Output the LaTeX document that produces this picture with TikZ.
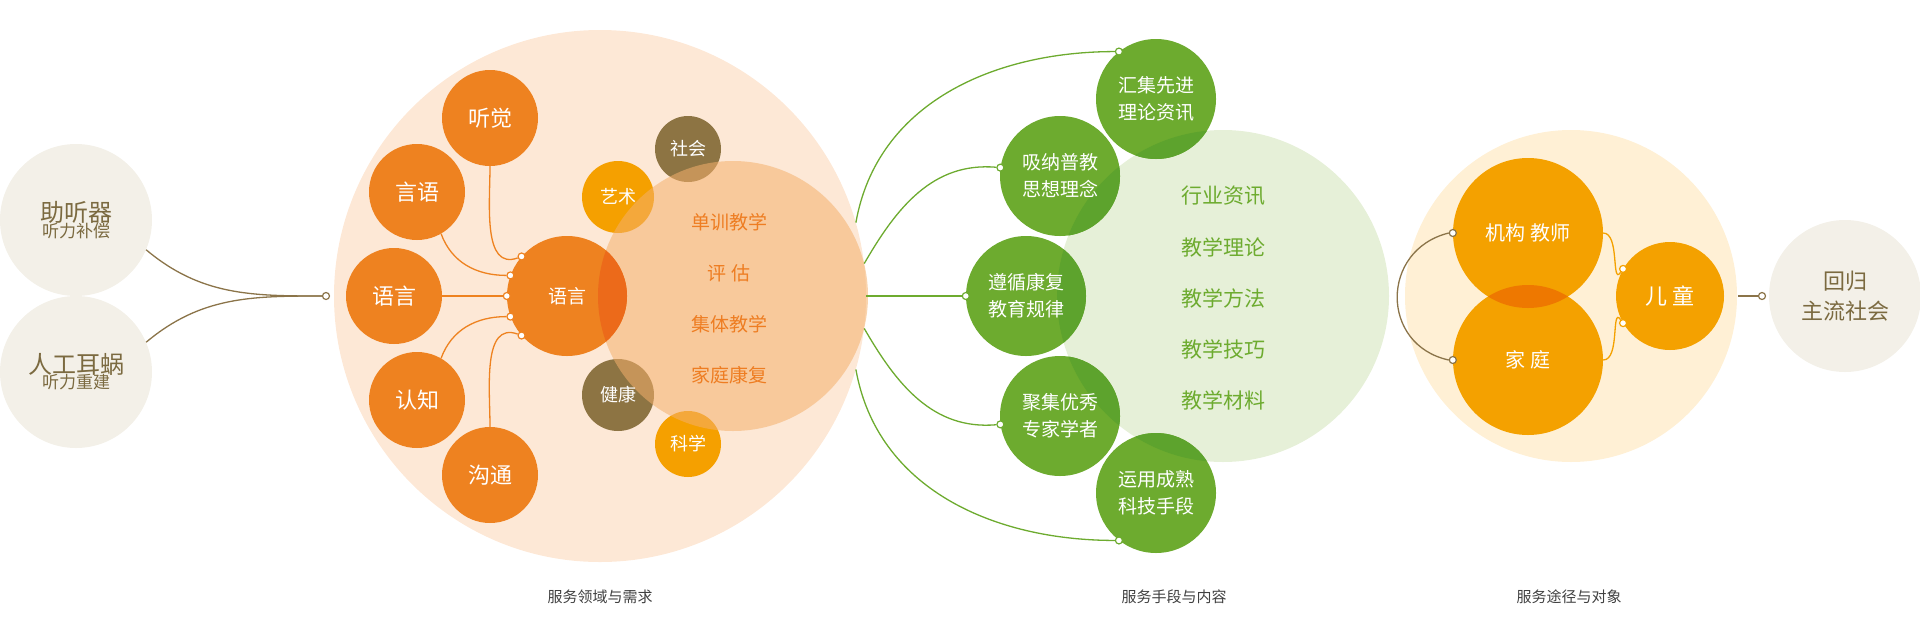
\documentclass[tikz,border=0pt]{standalone}
\usepackage{fontspec}
\setmainfont{Noto Sans CJK SC}
\begin{document}
\begin{tikzpicture}[x=1pt,y=-1pt,
  disc/.style={circle,inner sep=0,minimum size=#1},
  lab/.style={text=white,font=\fontsize{21}{25}\selectfont,align=center},
  dot/.style={circle,draw,fill=white,inner sep=0,minimum size=7pt,line width=1.2pt},
  captext/.style={text=black!75,font=\fontsize{15}{18}\selectfont}]
\definecolor{peach}{HTML}{FDE8D6}
\definecolor{innerc}{HTML}{F4B06C}
\definecolor{org}{HTML}{EE8220}
\definecolor{orgred}{HTML}{EC6A1A}
\definecolor{orgtxt}{HTML}{EE7D22}
\definecolor{brn}{HTML}{8D7443}
\definecolor{yel}{HTML}{F5A000}
\definecolor{beige}{HTML}{F3F0E8}
\definecolor{brntxt}{HTML}{7B6A40}
\definecolor{grn}{HTML}{6DAB2F}
\definecolor{grn2}{HTML}{5DA32D}
\definecolor{lgrn}{HTML}{E6F0D8}
\definecolor{lyel}{HTML}{FFF0D5}
\definecolor{yc}{HTML}{F4A100}
\definecolor{yov}{HTML}{EE7800}
\definecolor{lnb}{HTML}{8B7449}
\useasboundingbox (0,0) rectangle (1920,638);
% left
\node[disc=152pt,fill=beige] (zt) at (76,220) {};
\node[disc=152pt,fill=beige] (rg) at (76,372) {};
\node[align=center,text=brntxt] at (zt.center) {\fontsize{24}{30}\selectfont 助听器\\[-2pt]\fontsize{17}{20}\selectfont 听力补偿};
\node[align=center,text=brntxt] at (rg.center) {\fontsize{24}{30}\selectfont 人工耳蜗\\[-2pt]\fontsize{17}{20}\selectfont 听力重建};
% big peach
\node[disc=532pt,fill=peach] (big) at (600,296) {};
\node[dot,draw=lnb] (j1) at (326,296) {};
\draw[lnb,line width=1.3pt] (zt.-23) to[out=-40,in=180] (j1.west);
\draw[lnb,line width=1.3pt] (rg.23) to[out=40,in=180] (j1.west);
% satellites
\node[disc=66pt,fill=brn] (sh) at (688,149) {};
\node[disc=72pt,fill=yel] (ys) at (618,197) {};
\node[disc=72pt,fill=brn] (jk) at (618,395) {};
\node[disc=66pt,fill=yel] (kx) at (688,444) {};
\node[disc=270pt,fill=innerc,fill opacity=.55] (inn) at (733,296) {};
\node[disc=96pt,fill=org] (tj) at (490,118) {};
\node[disc=96pt,fill=org] (yy) at (417,192) {};
\node[disc=96pt,fill=org] (yl) at (394,296) {};
\node[disc=96pt,fill=org] (rz) at (417,400) {};
\node[disc=96pt,fill=org] (gt) at (490,475) {};
\node[disc=120pt,fill=org] (cy) at (567,296) {};
\begin{scope}\clip (733,296) circle (135); \fill[orgred] (567,296) circle (60);\end{scope}
\foreach \n/\t in {sh/社会,ys/艺术,jk/健康,kx/科学} \node[lab,font=\fontsize{18}{22}\selectfont] at (\n.center) {\t};
\foreach \n/\t in {tj/听觉,yy/言语,yl/语言,rz/认知,gt/沟通} \node[lab,font=\fontsize{22}{26}\selectfont] at (\n.center) {\t};
\node[lab,font=\fontsize{19}{22}\selectfont] at (cy.center) {语言};
\foreach \t [count=\i] in {单训教学,评\ 估,集体教学,家庭康复}
  \node[text=orgtxt,font=\fontsize{19}{22}\selectfont] at (729,222+51*\i-51) {\t};
\node[dot,draw=org] (d1) at (cy.139) {};
\node[dot,draw=org] (d2) at (cy.160) {};
\node[dot,draw=org] (d3) at (cy.180) {};
\node[dot,draw=org] (d4) at (cy.200) {};
\node[dot,draw=org] (d5) at (cy.221) {};
\begin{scope}[org,line width=1.3pt]
\draw (tj.south) to[out=-90,in=200] (d1);
\draw (yy.-60) to[out=-70,in=180] (d2);
\draw (yl.east) -- (d3);
\draw (rz.60) to[out=70,in=180] (d4);
\draw (gt.north) to[out=90,in=160] (d5);
\end{scope}
% green
\node[disc=332pt,fill=lgrn] (lg) at (1223,296) {};
\node[disc=120pt,fill=grn] (g1) at (1156,99) {};
\node[disc=120pt,fill=grn] (g2) at (1060,176) {};
\node[disc=120pt,fill=grn] (g3) at (1026,296) {};
\node[disc=120pt,fill=grn] (g4) at (1060,416) {};
\node[disc=120pt,fill=grn] (g5) at (1156,493) {};
\begin{scope}\clip (1223,296) circle (166);
\foreach \p in {(1156,99),(1060,176),(1026,296),(1060,416),(1156,493)} \fill[grn2] \p circle (60);
\end{scope}
\foreach \n/\t in {g1/汇集先进\\理论资讯,g2/吸纳普教\\思想理念,g3/遵循康复\\教育规律,g4/聚集优秀\\专家学者,g5/运用成熟\\科技手段}
  \node[lab,font=\fontsize{19}{27}\selectfont] at (\n.center) {\t};
\foreach \t [count=\i] in {行业资讯,教学理论,教学方法,教学技巧,教学材料}
  \node[text=grn,font=\fontsize{21}{25}\selectfont] at (1223,196+51*\i-51) {\t};
\node[dot,draw=grn] (e1) at (g1.128) {};
\node[dot,draw=grn] (e2) at (g2.172) {};
\node[dot,draw=grn] (e3) at (g3.180) {};
\node[dot,draw=grn] (e4) at (g4.188) {};
\node[dot,draw=grn] (e5) at (g5.232) {};
\begin{scope}[grn,line width=1.3pt]
\draw (big.16) to[out=80,in=180] (e1);
\draw (big.7) to[out=60,in=175] (e2);
\draw (big.0) -- (e3);
\draw (big.-7) to[out=-60,in=185] (e4);
\draw (big.-16) to[out=-80,in=180] (e5);
\end{scope}
% yellow
\node[disc=332pt,fill=lyel] (ly) at (1571,296) {};
\node[disc=150pt,fill=yc] (jg) at (1528,233) {};
\node[disc=150pt,fill=yc] (jt) at (1528,360) {};
\begin{scope}\clip (1528,233) circle (75); \fill[yov] (1528,360) circle (75);\end{scope}
\node[disc=108pt,fill=yc] (et) at (1670,296) {};
\node[lab,font=\fontsize{20}{24}\selectfont] at (jg.center) {机构 教师};
\node[lab,font=\fontsize{20}{24}\selectfont] at (jt.center) {家 庭};
\node[lab,font=\fontsize{22}{26}\selectfont] at (et.center) {儿 童};
\node[dot,draw=lnb] (f1) at (jg.180) {};
\node[dot,draw=lnb] (f2) at (jt.180) {};
\draw[lnb,line width=1.3pt] (f1.west) .. controls (1380,250) and (1380,345) .. (f2.west);
\node[dot,draw=yc] (h1) at (et.150) {};
\node[dot,draw=yc] (h2) at (et.210) {};
\draw[yc,line width=1.3pt] (jg.0) to[out=0,in=235] (h1);
\draw[yc,line width=1.3pt] (jt.0) to[out=0,in=125] (h2);
\node[disc=152pt,fill=beige] (hg) at (1845,296) {};
\node[dot,draw=lnb] (k1) at (1762,296) {};
\draw[lnb,line width=1.3pt] (1738,296) -- (k1.west);
\node[align=center,text=brntxt,font=\fontsize{22}{30}\selectfont] at (hg.center) {回归\\主流社会};
% captions
\node[captext] at (600,597) {服务领域与需求};
\node[captext] at (1174,597) {服务手段与内容};
\node[captext] at (1569,597) {服务途径与对象};
\end{tikzpicture}
\end{document}
